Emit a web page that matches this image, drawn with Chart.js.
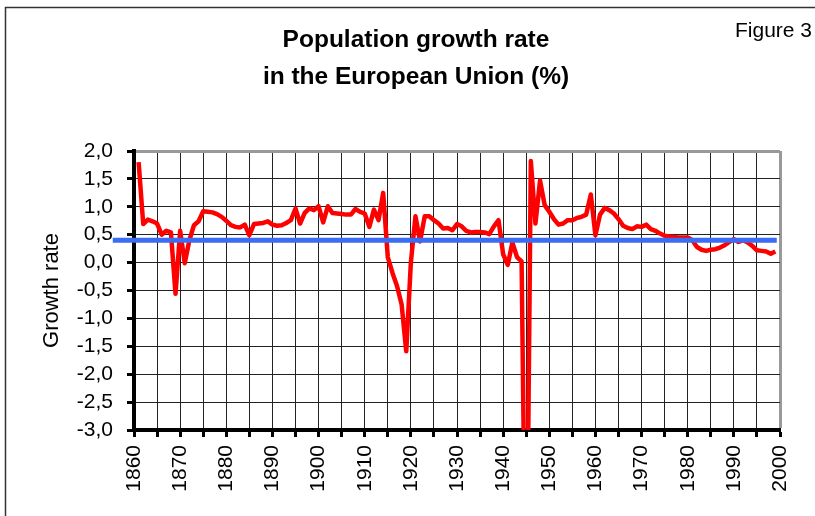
<!DOCTYPE html>
<html>
<head>
<meta charset="utf-8">
<script src="https://cdn.jsdelivr.net/npm/chart.js@4.4.1/dist/chart.umd.min.js"></script>
<style>
html,body{margin:0;padding:0;background:#fff;}
#wrap{width:815px;height:516px;position:relative;overflow:hidden;}
canvas{display:block;}
</style>
</head>
<body>
<div id="wrap"><canvas id="c" width="815" height="516"></canvas></div>
<script>
// ---- Data ----
const years = [
  1861,1862,1863,1864,1865,1866,1867,1868,1869,1870,
  1871,1872,1873,1874,1875,1876,1877,1878,1879,1880,
  1881,1882,1883,1884,1885,1886,1887,1888,1889,1890,
  1891,1892,1893,1894,1895,1896,1897,1898,1899,1900,
  1901,1902,1903,1904,1905,1906,1907,1908,1909,1910,
  1911,1912,1913,1914,1915,1916,1917,1918,1919,1920,
  1921,1922,1923,1924,1925,1926,1927,1928,1929,1930,
  1931,1932,1933,1934,1935,1936,1937,1938,1939,1940,
  1941,1942,1943,1944,1945,1946,1947,1948,1949,1950,
  1951,1952,1953,1954,1955,1956,1957,1958,1959,1960,
  1961,1962,1963,1964,1965,1966,1967,1968,1969,1970,
  1971,1972,1973,1974,1975,1976,1977,1978,1979,1980,
  1981,1982,1983,1984,1985,1986,1987,1988,1989,1990,
  1991,1992,1993,1994,1995,1996,1997,1998,1999
];
const growthRate = [
  1.80,0.69,0.77,0.74,0.70,0.50,0.57,0.54,-0.56,0.57,
  -0.01,0.40,0.67,0.74,0.92,0.91,0.90,0.87,0.82,0.75,
  0.67,0.64,0.63,0.68,0.49,0.69,0.70,0.71,0.74,0.68,
  0.66,0.67,0.71,0.76,0.97,0.70,0.89,0.97,0.94,1.01,
  0.72,1.01,0.89,0.88,0.87,0.86,0.86,0.96,0.91,0.88,
  0.64,0.95,0.76,1.25,0.10,-0.18,-0.42,-0.75,-1.59,0.00,
  0.83,0.38,0.83,0.83,0.76,0.70,0.61,0.62,0.58,0.69,
  0.65,0.57,0.54,0.55,0.55,0.54,0.51,0.65,0.76,0.15,
  -0.04,0.36,0.10,0.02,-7.0,1.82,0.70,1.47,1.03,0.91,
  0.78,0.68,0.70,0.76,0.76,0.80,0.82,0.86,1.22,0.49,
  0.86,0.98,0.94,0.88,0.78,0.66,0.62,0.60,0.65,0.64,
  0.68,0.60,0.57,0.52,0.48,0.47,0.46,0.45,0.45,0.45,
  0.40,0.28,0.23,0.21,0.23,0.24,0.27,0.31,0.37,0.42,
  0.37,0.40,0.36,0.30,0.22,0.21,0.20,0.16,0.20
];
// horizontal reference (average) line, as drawn in the picture
const meanYears = [1855.4, 1999.3];
const meanRate = [0.4, 0.4];
// axis tick labels
const xLabelYears = [1860,1870,1880,1890,1900,1910,1920,1930,1940,1950,1960,1970,1980,1990,2000];
const yTickValues = [2.0,1.5,1.0,0.5,0.0,-0.5,-1.0,-1.5,-2.0,-2.5,-3.0];
const titleLines = ['Population growth rate', 'in the European Union (%)'];
const figureLabel = 'Figure 3';
const yAxisTitle = 'Growth rate';

const FONT = 'Arial, "Liberation Sans", sans-serif';

const decorPlugin = {
  id: 'decor',
  beforeDraw(chart) {
    const ctx = chart.ctx;
    ctx.save();
    ctx.fillStyle = '#fff';
    ctx.fillRect(0, 0, chart.width, chart.height);
    ctx.strokeStyle = '#333';
    ctx.lineWidth = 1.5;
    ctx.strokeRect(5.5, 7.5, 1000, 1000);
    ctx.restore();
  },
  afterDraw(chart) {
    const ctx = chart.ctx;
    ctx.save();
    ctx.fillStyle = '#000';
    ctx.textAlign = 'center';
    ctx.textBaseline = 'alphabetic';
    ctx.font = 'bold 24.5px ' + FONT;
    ctx.fillText(titleLines[0], 416, 47);
    ctx.fillText(titleLines[1], 416, 84);
    ctx.font = '21px ' + FONT;
    ctx.textAlign = 'right';
    ctx.fillText(figureLabel, 812, 37);
    ctx.restore();
  }
};

const redPoints = years.map((y, i) => ({x: y, y: growthRate[i]}));
const bluePoints = meanYears.map((y, i) => ({x: y, y: meanRate[i]}));

new Chart(document.getElementById('c'), {
  type: 'line',
  data: {
    datasets: [
      {
        label: 'Average',
        data: bluePoints,
        borderColor: '#3a6cf4',
        borderWidth: 5,
        pointRadius: 0,
        clip: false,
        order: 0
      },
      {
        label: 'Growth rate',
        data: redPoints,
        borderColor: '#ff0000',
        borderWidth: 4.5,
        pointRadius: 0,
        tension: 0,
        borderJoinStyle: 'round',
        order: 1
      }
    ]
  },
  options: {
    responsive: false,
    animation: false,
    devicePixelRatio: 1,
    layout: { padding: { top: 151, right: 35, left: 0, bottom: 0 } },
    plugins: {
      legend: { display: false },
      tooltip: { enabled: false },
      title: { display: false }
    },
    scales: {
      x: {
        type: 'linear',
        min: 1860,
        max: 2000,
        afterFit(scale) { scale.height = 86; },
        ticks: {
          stepSize: 5,
          autoSkip: false,
          maxRotation: 90,
          minRotation: 90,
          padding: 8,
          color: '#000',
          font: { family: FONT, size: 21 },
          callback: (v) => xLabelYears.includes(v) ? String(v) : ''
        },
        grid: {
          color: (c) => (c.tick && c.tick.value === 2000) ? '#999' : '#222',
          lineWidth: (c) => (c.tick && c.tick.value === 2000) ? 3 : 1,
          tickColor: '#000',
          tickWidth: 3,
          tickLength: 7
        },
        border: { display: true, color: '#000', width: 4 }
      },
      y: {
        min: -3,
        max: 2,
        afterFit(scale) { scale.width = 134; },
        afterBuildTicks(scale) { scale.ticks = yTickValues.map(v => ({value: v})); },
        ticks: {
          autoSkip: false,
          padding: 14,
          color: '#000',
          font: { family: FONT, size: 21 },
          callback: (v) => v.toFixed(1).replace('.', ',')
        },
        grid: {
          color: (c) => (c.tick && c.tick.value === 2) ? '#999' : '#222',
          lineWidth: (c) => (c.tick && c.tick.value === 2) ? 3 : 1,
          tickColor: '#000',
          tickWidth: 3,
          tickLength: 7
        },
        border: { display: true, color: '#000', width: 4 },
        title: {
          display: true,
          text: yAxisTitle,
          color: '#000',
          font: { family: FONT, size: 22 },
          padding: { top: 39, bottom: 0 }
        }
      }
    }
  },
  plugins: [decorPlugin]
});
</script>
</body>
</html>
